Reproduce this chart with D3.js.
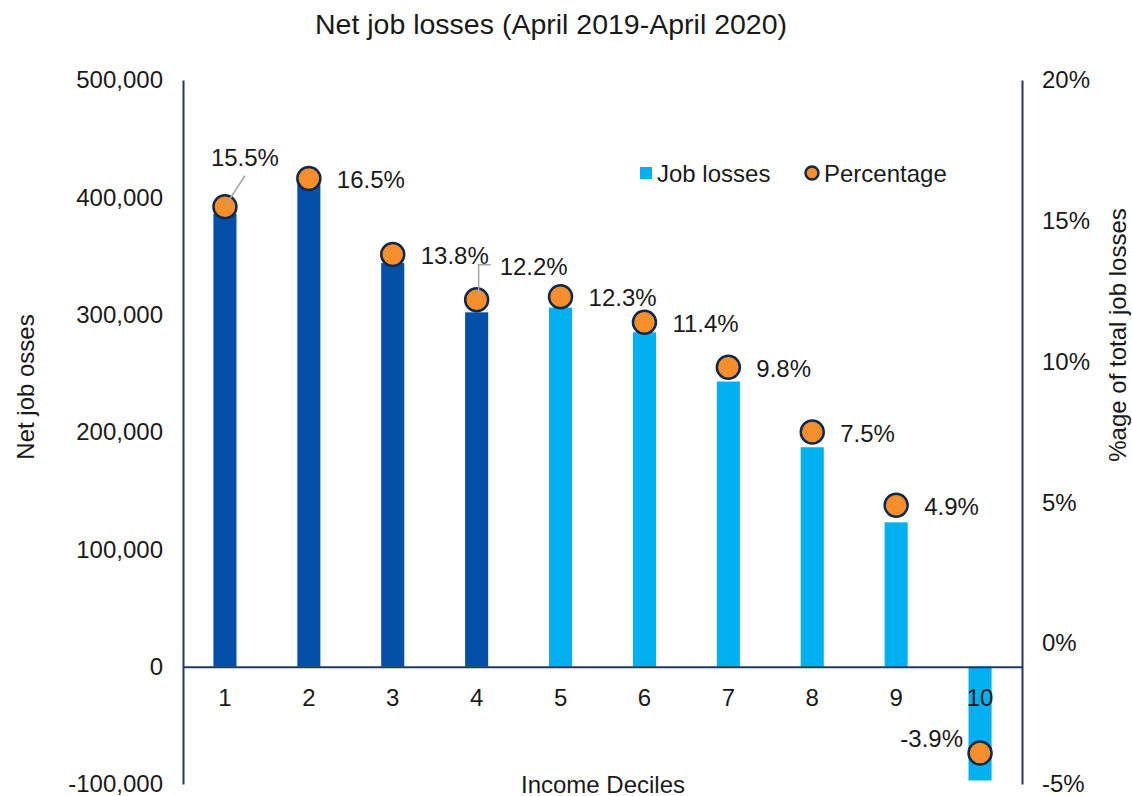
<!DOCTYPE html>
<html>
<head>
<meta charset="utf-8">
<script src="https://cdn.jsdelivr.net/npm/d3@7"></script>
<style>
  html, body { margin: 0; padding: 0; background: #ffffff; }
  svg { display: block; font-family: "Liberation Sans", Arial, sans-serif; }
</style>
</head>
<body>
<svg id="chart" width="1132" height="796"></svg>
<script>
// Income deciles and net job losses, April 2019 - April 2020
const deciles = ["1", "2", "3", "4", "5", "6", "7", "8", "9", "10"];
const jobLosses = [386000, 412000, 344000, 302000, 306000, 285000, 243000, 187000, 123000, -97000];
const percentages = [15.5, 16.5, 13.8, 12.2, 12.3, 11.4, 9.8, 7.5, 4.9, -3.9];
const leftTicks = [-100000, 0, 100000, 200000, 300000, 400000, 500000];
const rightTicks = [-5, 0, 5, 10, 15, 20];
const legendLabels = ["Job losses", "Percentage"];

// Styling
const darkBlue = "#0450A8";
const lightBlue = "#00B0F0";
const orange = "#F58E2B";
const navy = "#10294A";
const axisColor = "#1F3A60";
const textColor = "#1a1a1a";
const fontSize = 24;

const svg = d3.select("#chart");
const plotLeft = 183, plotRight = 1022, plotTop = 80, plotBottom = 784;

const x = d3.scaleBand().domain(deciles).range([plotLeft, plotRight])
  .paddingInner(0.725).paddingOuter(0.3625);
const yL = d3.scaleLinear().domain([-100000, 500000]).range([plotBottom, plotTop]);
const yR = d3.scaleLinear().domain([-5, 20]).range([plotBottom, plotTop]);

// Thousands separators with a plain hyphen for negatives
const fmt = d => d3.format(",")(d).replace("\u2212", "-");

// Title
svg.append("text")
  .attr("x", 551).attr("y", 24)
  .attr("text-anchor", "middle").attr("dominant-baseline", "central")
  .attr("font-size", 28.5).attr("fill", textColor)
  .text("Net job losses (April 2019-April 2020)");

// Bars
svg.append("g").selectAll("rect")
  .data(deciles.map((d, i) => ({ d, v: jobLosses[i], i })))
  .join("rect")
  .attr("x", o => x(o.d))
  .attr("width", x.bandwidth())
  .attr("y", o => yL(Math.max(0, o.v)))
  .attr("height", o => Math.abs(yL(o.v) - yL(0)))
  .attr("fill", o => o.i < 4 ? darkBlue : lightBlue);

// Left axis
const axL = svg.append("g").attr("transform", `translate(${plotLeft},0)`)
  .call(d3.axisLeft(yL).tickValues(leftTicks).tickFormat(fmt).tickSize(0).tickPadding(20));
axL.select(".domain").attr("stroke", axisColor).attr("stroke-width", 2);
axL.selectAll("text").attr("font-size", fontSize).attr("fill", textColor)
  .attr("font-family", "Liberation Sans, Arial, sans-serif");

// Right axis
const axR = svg.append("g").attr("transform", `translate(${plotRight},0)`)
  .call(d3.axisRight(yR).tickValues(rightTicks).tickFormat(d => d + "%").tickSize(0).tickPadding(20));
axR.select(".domain").attr("stroke", axisColor).attr("stroke-width", 2);
axR.selectAll("text").attr("font-size", fontSize).attr("fill", textColor)
  .attr("font-family", "Liberation Sans, Arial, sans-serif");

// Category axis along the zero line
const axX = svg.append("g").attr("transform", `translate(0,${yL(0)})`)
  .call(d3.axisBottom(x).tickSize(0).tickPadding(22));
axX.select(".domain").attr("stroke", axisColor).attr("stroke-width", 2);
axX.selectAll("text").attr("font-size", fontSize).attr("fill", textColor)
  .attr("font-family", "Liberation Sans, Arial, sans-serif");

// Axis titles
svg.append("text")
  .attr("x", 603).attr("y", 784)
  .attr("text-anchor", "middle").attr("dominant-baseline", "central")
  .attr("font-size", fontSize).attr("fill", textColor)
  .text("Income Deciles");

svg.append("text")
  .attr("transform", "translate(25,387) rotate(-90)")
  .attr("text-anchor", "middle").attr("dominant-baseline", "central")
  .attr("font-size", fontSize).attr("fill", textColor)
  .text("Net job osses");

svg.append("text")
  .attr("transform", "translate(1117,335) rotate(-90)")
  .attr("text-anchor", "middle").attr("dominant-baseline", "central")
  .attr("font-size", fontSize).attr("fill", textColor)
  .text("%age of total job losses");

// Percentage markers
const cx = d => x(d) + x.bandwidth() / 2;
const points = deciles.map((d, i) => ({ d, p: percentages[i], i }));

svg.append("g").selectAll("circle")
  .data(points)
  .join("circle")
  .attr("cx", o => cx(o.d))
  .attr("cy", o => yR(o.p))
  .attr("r", 11.5)
  .attr("fill", orange)
  .attr("stroke", navy)
  .attr("stroke-width", 2.5);

// Data labels: default placement to the right of each marker
const labelPlacement = {
  0: { dx: 20, dy: -49, anchor: "middle", leader: [[20, -31], [1, -2]] },
  3: { dx: 23, dy: -33, anchor: "start", leader: [[14, -35], [2, -35], [2, -3]] },
  9: { dx: -17, dy: -15, anchor: "end" }
};

const labels = svg.append("g");
points.forEach(o => {
  const px = cx(o.d), py = yR(o.p);
  const place = labelPlacement[o.i] || { dx: 28, dy: 1, anchor: "start" };
  if (place.leader) {
    labels.append("path")
      .attr("d", d3.line()(place.leader.map(([a, b]) => [px + a, py + b])))
      .attr("fill", "none")
      .attr("stroke", "#A6A6A6")
      .attr("stroke-width", 1.5);
  }
  labels.append("text")
    .attr("x", px + place.dx).attr("y", py + place.dy)
    .attr("text-anchor", place.anchor).attr("dominant-baseline", "central")
    .attr("font-size", fontSize).attr("fill", textColor)
    .text(o.p.toFixed(1) + "%");
});

// Legend
const legend = svg.append("g");
legend.append("rect")
  .attr("x", 640).attr("y", 167).attr("width", 12).attr("height", 12)
  .attr("fill", lightBlue);
legend.append("text")
  .attr("x", 657).attr("y", 173)
  .attr("dominant-baseline", "central")
  .attr("font-size", fontSize).attr("fill", textColor)
  .text(legendLabels[0]);
legend.append("circle")
  .attr("cx", 812).attr("cy", 173).attr("r", 6.5)
  .attr("fill", orange).attr("stroke", navy).attr("stroke-width", 2.5);
legend.append("text")
  .attr("x", 824).attr("y", 173)
  .attr("dominant-baseline", "central")
  .attr("font-size", fontSize).attr("fill", textColor)
  .text(legendLabels[1]);
</script>
</body>
</html>
